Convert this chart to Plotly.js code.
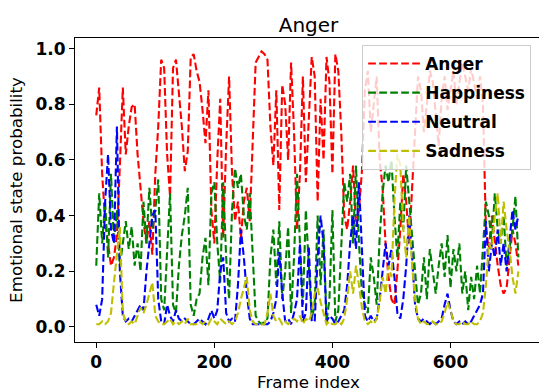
<!DOCTYPE html>
<html>
<head>
<meta charset="utf-8">
<script src="https://cdn.plot.ly/plotly-3.0.1.min.js"></script>
<style>
html,body{margin:0;padding:0;overflow:hidden;background:#fff;}
#chart{width:542px;height:392px;}
</style>
</head>
<body>
<div id="chart"></div>
<script>
// Frame sampling step (frames 0..715)
const frameStep = 5;

const seriesNames = ["Anger", "Happiness", "Neutral", "Sadness"];
const seriesColors = ["#ff0000", "#008000", "#0000ff", "#bfbf00"];

const anger = [
  0.76,0.86,0.55,0.38,0.30,0.22,0.25,0.33,0.58,0.86,
  0.62,0.72,0.79,0.80,0.62,0.50,0.38,0.30,0.38,0.26,
  0.55,0.72,0.96,0.93,0.62,0.47,0.93,0.96,0.85,0.72,
  0.56,0.63,0.97,0.98,0.92,0.88,0.78,0.66,0.85,0.42,
  0.30,0.60,0.82,0.32,0.65,0.90,0.55,0.38,0.45,0.32,
  0.45,0.50,0.38,0.70,0.95,0.97,0.99,0.98,0.96,0.72,
  0.58,0.85,0.42,0.87,0.80,0.60,0.95,0.70,0.35,0.55,
  0.90,0.52,0.75,0.97,0.90,0.45,0.82,0.60,0.97,0.88,
  0.55,0.98,0.92,0.70,0.40,0.35,0.45,0.58,0.36,0.42,
  0.56,0.85,0.92,0.70,0.80,0.90,0.60,0.50,0.30,0.18,
  0.10,0.08,0.20,0.35,0.55,0.45,0.30,0.50,0.75,0.90,
  0.85,0.70,0.80,0.92,0.88,0.75,0.65,0.82,0.90,0.78,
  0.85,0.92,0.80,0.88,0.95,0.90,0.85,0.93,0.88,0.82,
  0.90,0.80,0.35,0.28,0.40,0.30,0.22,0.15,0.12,0.14,
  0.25,0.35,0.30,0.22
];

const happiness = [
  0.22,0.48,0.30,0.45,0.25,0.55,0.30,0.42,0.22,0.30,
  0.38,0.28,0.36,0.22,0.30,0.20,0.45,0.30,0.50,0.35,
  0.42,0.53,0.10,0.06,0.30,0.48,0.08,0.05,0.22,0.33,
  0.40,0.50,0.08,0.04,0.10,0.12,0.25,0.32,0.15,0.48,
  0.52,0.30,0.16,0.52,0.25,0.10,0.42,0.57,0.50,0.55,
  0.40,0.35,0.48,0.25,0.04,0.02,0.01,0.02,0.03,0.25,
  0.35,0.15,0.38,0.10,0.20,0.36,0.05,0.25,0.55,0.30,
  0.08,0.42,0.22,0.03,0.08,0.40,0.15,0.35,0.02,0.10,
  0.42,0.02,0.06,0.30,0.52,0.45,0.55,0.30,0.58,0.30,
  0.12,0.08,0.05,0.25,0.18,0.08,0.32,0.48,0.58,0.52,
  0.60,0.40,0.25,0.45,0.35,0.58,0.45,0.30,0.20,0.08,
  0.12,0.25,0.10,0.28,0.20,0.12,0.22,0.30,0.18,0.33,
  0.14,0.28,0.20,0.30,0.12,0.20,0.06,0.18,0.10,0.22,
  0.12,0.28,0.45,0.40,0.30,0.48,0.35,0.30,0.40,0.22,
  0.28,0.35,0.47,0.25
];

const neutral = [
  0.08,0.04,0.10,0.45,0.62,0.35,0.30,0.72,0.20,0.04,
  0.02,0.03,0.02,0.04,0.06,0.08,0.06,0.20,0.30,0.40,
  0.42,0.10,0.02,0.01,0.08,0.04,0.02,0.06,0.03,0.02,
  0.03,0.02,0.01,0.01,0.02,0.03,0.02,0.01,0.03,0.06,
  0.03,0.06,0.20,0.25,0.05,0.02,0.03,0.02,0.15,0.35,
  0.25,0.12,0.03,0.01,0.01,0.01,0.01,0.01,0.01,0.02,
  0.05,0.10,0.27,0.12,0.02,0.03,0.01,0.05,0.10,0.30,
  0.02,0.05,0.29,0.02,0.02,0.25,0.40,0.30,0.02,0.04,
  0.03,0.01,0.02,0.04,0.06,0.15,0.30,0.40,0.28,0.52,
  0.30,0.04,0.02,0.04,0.02,0.03,0.10,0.20,0.30,0.22,
  0.28,0.18,0.05,0.03,0.10,0.22,0.40,0.25,0.08,0.03,
  0.02,0.03,0.02,0.01,0.02,0.01,0.02,0.03,0.08,0.12,
  0.06,0.02,0.01,0.02,0.01,0.02,0.01,0.02,0.04,0.06,
  0.08,0.12,0.38,0.20,0.30,0.25,0.35,0.22,0.30,0.20,
  0.32,0.42,0.35,0.40
];

const sadness = [
  0.01,0.01,0.02,0.01,0.02,0.05,0.16,0.25,0.36,0.05,
  0.02,0.01,0.02,0.01,0.04,0.07,0.05,0.08,0.12,0.16,
  0.04,0.02,0.01,0.01,0.02,0.03,0.01,0.02,0.01,0.02,
  0.01,0.03,0.01,0.01,0.01,0.02,0.01,0.02,0.01,0.03,
  0.02,0.01,0.03,0.02,0.01,0.02,0.01,0.02,0.05,0.10,
  0.14,0.18,0.06,0.02,0.01,0.01,0.01,0.01,0.05,0.12,
  0.04,0.02,0.03,0.01,0.02,0.01,0.02,0.03,0.02,0.04,
  0.01,0.03,0.02,0.05,0.12,0.14,0.09,0.05,0.01,0.02,
  0.01,0.01,0.02,0.01,0.03,0.10,0.20,0.12,0.22,0.15,
  0.07,0.02,0.01,0.02,0.01,0.03,0.09,0.18,0.12,0.22,
  0.18,0.45,0.62,0.58,0.35,0.25,0.40,0.22,0.10,0.03,
  0.01,0.02,0.01,0.01,0.02,0.01,0.01,0.02,0.05,0.09,
  0.06,0.02,0.01,0.01,0.02,0.01,0.01,0.02,0.01,0.01,
  0.02,0.05,0.15,0.30,0.28,0.40,0.48,0.30,0.45,0.35,
  0.28,0.18,0.12,0.20
];

const xTicks = [0, 200, 400, 600];
const yTicks = [0.0, 0.2, 0.4, 0.6, 0.8, 1.0];

const allSeries = [anger, happiness, neutral, sadness];
const traces = allSeries.map((vals, k) => ({
  x: vals.map((_, i) => i * frameStep),
  y: vals,
  type: "scatter",
  mode: "lines",
  name: seriesNames[k],
  legendgroup: "g" + k,
  line: {color: seriesColors[k], width: 2.1, dash: "7.7px,3.3px"}
}));

const font = {family: "DejaVu Sans, sans-serif", color: "#000"};
const layout = {
  width: 542,
  height: 392,
  margin: {l: 75, r: 0, t: 38, b: 50, pad: 0},
  paper_bgcolor: "#fff",
  plot_bgcolor: "#fff",
  font: font,
  showlegend: true,
  title: {text: "Anger", font: {family: font.family, size: 20, color: "#000"}, x: 0.5, xref: "paper", xanchor: "center", y: 1, yref: "paper", yanchor: "bottom", pad: {b: 6}},
  xaxis: {
    range: [-36, 755],
    tickvals: xTicks,
    ticktext: xTicks.map(String),
    ticks: "outside", ticklen: 5, tickwidth: 1, tickcolor: "#000",
    showline: true, mirror: true, linecolor: "#000", linewidth: 1,
    showgrid: false, zeroline: false,
    tickfont: {family: font.family, size: 17, color: "#000", weight: "bold"},
    title: {text: "Frame index", font: {family: font.family, size: 16.7, color: "#000"}, standoff: 6},
    automargin: false
  },
  yaxis: {
    range: [-0.054, 1.038],
    tickvals: yTicks,
    ticktext: yTicks.map(v => v.toFixed(1)),
    ticks: "outside", ticklen: 5, tickwidth: 1, tickcolor: "#000",
    showline: true, mirror: true, linecolor: "#000", linewidth: 1,
    showgrid: false, zeroline: false,
    tickfont: {family: font.family, size: 17, color: "#000", weight: "bold"},
    title: {text: "Emotional state probability", font: {family: font.family, size: 16.7, color: "#000"}, standoff: 8},
    automargin: false
  },
  legend: {
    x: 0.615, y: 0.977, xanchor: "left", yanchor: "top",
    bgcolor: "rgba(255,255,255,0.8)", bordercolor: "#cccccc", borderwidth: 1,
    font: {family: font.family, size: 17, color: "#000", weight: "bold"},
    itemwidth: 52, tracegroupgap: 4
  }
};

Plotly.newPlot("chart", traces, layout, {displayModeBar: false, staticPlot: true});
</script>
</body>
</html>
